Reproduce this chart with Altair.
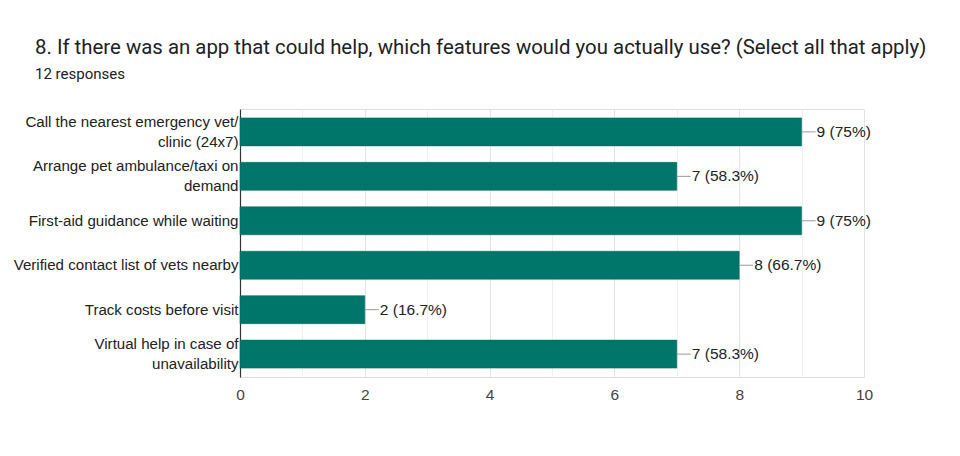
import altair as alt
import pandas as pd

categories = [
    "Call the nearest emergency vet/|clinic (24x7)",
    "Arrange pet ambulance/taxi on|demand",
    "First-aid guidance while waiting",
    "Verified contact list of vets nearby",
    "Track costs before visit",
    "Virtual help in case of|unavailability",
]
counts = [9, 7, 9, 8, 2, 7]
labels = ["9 (75%)", "7 (58.3%)", "9 (75%)", "8 (66.7%)", "2 (16.7%)", "7 (58.3%)"]

df = pd.DataFrame({"cat": categories, "count": counts, "label": labels})

FONT = "Roboto"
LFONT = "Liberation Sans"
ysc = alt.Y("cat:N", sort=categories, scale=alt.Scale(paddingInner=0.37, paddingOuter=0.2),
            axis=alt.Axis(title=None, labelExpr="split(datum.value, '|')", labelFont=LFONT,
                          labelFontSize=15.1, labelColor="#222222", labelLineHeight=20,
                          labelOffset={"condition": {"test": "indexof(datum.value, '|') >= 0", "value": -10}, "value": 0},
                          ticks=False, domainColor="#333333", domainWidth=1.2,
                          labelPadding=2, grid=False, labelLimit=400))
xsc = alt.X("count:Q", scale=alt.Scale(domain=[0, 10], nice=False),
            axis=alt.Axis(title=None, values=list(range(0, 11)), format="d",
                          labelExpr="datum.value % 2 === 0 ? datum.label : ''",
                          labelFont=LFONT, labelFontSize=15.5, labelColor="#444444",
                          labelFlush=False, labelOverlap=False,
                          ticks=False, domain=False, labelPadding=10,
                          gridColor={"condition": {"test": "datum.value % 2 === 0", "value": "#e3e3e3"}, "value": "#f0f0f0"},
                          gridWidth=1))

bars = alt.Chart(df).mark_bar(color="#00766a", stroke="#005f55", strokeWidth=0.5).encode(x=xsc, y=ysc)
rules = alt.Chart(df).mark_rule(color="#999999", strokeWidth=1, x2Offset=14).encode(
    x="count:Q", x2="count:Q", y=alt.Y("cat:N", sort=categories))
text = alt.Chart(df).mark_text(align="left", baseline="middle", dx=15, font=LFONT, fontSize=15.5,
                               color="#222222").encode(
    x="count:Q", y=alt.Y("cat:N", sort=categories), text="label:N")

chart = alt.layer(bars, rules, text).properties(
    width=624, height=268,
    title=alt.TitleParams(
        "8. If there was an app that could help, which features would you actually use? (Select all that apply)",
        subtitle="12 responses", anchor="start", frame="group", dx=-205, offset=27,
        font=FONT, fontSize=20.4, fontWeight="normal", color="#202124",
        subtitleFont=FONT, subtitleFontSize=15, subtitleColor="#202124", subtitlePadding=9),
    autosize=alt.AutoSizeParams(type="none"),
    padding={"left": 232, "top": 101, "right": 88, "bottom": 71},
).configure_view(stroke="#e3e3e3", strokeWidth=1).configure(background="white")

chart.save("out.html", embed_options={"renderer": "svg", "actions": False})
